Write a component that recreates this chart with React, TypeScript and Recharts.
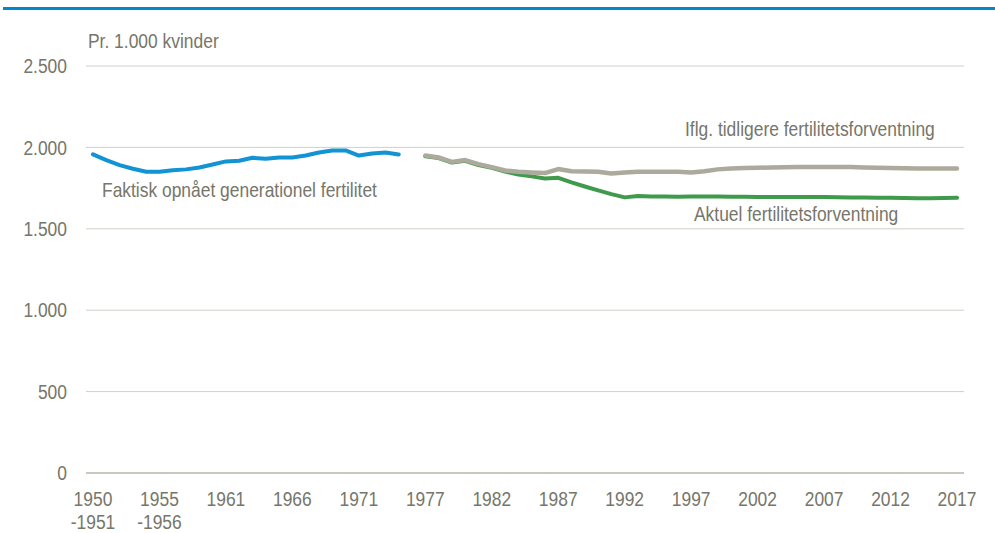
import React from "react";
import { LineChart, Line, XAxis, YAxis, CartesianGrid, Customized } from "recharts";

const categories: string[] = [
  "1950-1951", "1951-1952", "1952-1953", "1953-1954", "1954-1955", "1955-1956",
  "1957", "1958", "1959", "1960", "1961", "1962", "1963", "1964", "1965", "1966",
  "1967", "1968", "1969", "1970", "1971", "1972", "1973", "1974", "1975-1976",
  "1977", "1978", "1979", "1980", "1981", "1982", "1983", "1984", "1985", "1986",
  "1987", "1988", "1989", "1990", "1991", "1992", "1993", "1994", "1995", "1996",
  "1997", "1998", "1999", "2000", "2001", "2002", "2003", "2004", "2005", "2006",
  "2007", "2008", "2009", "2010", "2011", "2012", "2013", "2014", "2015", "2016", "2017",
];

// Faktisk opnået generationel fertilitet (index 0..23)
const actualCohort: (number | null)[] = [
  1957, 1922, 1891, 1869, 1850, 1850, 1860, 1865, 1877, 1895, 1914, 1918,
  1936, 1930, 1938, 1938, 1950, 1969, 1981, 1981, 1950, 1963, 1969, 1957,
];

// Iflg. tidligere fertilitetsforventning (index 25..65)
const previousExpectation: (number | null)[] = [
  1950, 1938, 1911, 1922, 1897, 1879, 1858, 1850, 1846, 1842, 1867, 1854,
  1852, 1850, 1840, 1846, 1850, 1850, 1850, 1850, 1846, 1854, 1865, 1870,
  1873, 1875, 1877, 1878, 1879, 1880, 1880, 1880, 1879, 1877, 1875, 1873,
  1872, 1871, 1870, 1870, 1870,
];

// Aktuel fertilitetsforventning (index 25..65)
const currentExpectation: (number | null)[] = [
  1946, 1934, 1907, 1918, 1892, 1874, 1852, 1834, 1822, 1809, 1813, 1785,
  1760, 1736, 1713, 1693, 1701, 1699, 1699, 1697, 1698, 1698, 1698, 1697,
  1697, 1696, 1696, 1696, 1696, 1695, 1695, 1694, 1693, 1692, 1691, 1690,
  1689, 1688, 1688, 1689, 1690,
];

const yTicks = [0, 500, 1000, 1500, 2000, 2500];

const SECOND_START = 25;

const data = categories.map((c, i) => ({
  name: c,
  actual: i < actualCohort.length ? actualCohort[i] : null,
  previous: i >= SECOND_START ? previousExpectation[i - SECOND_START] ?? null : null,
  current: i >= SECOND_START ? currentExpectation[i - SECOND_START] ?? null : null,
}));

const FONT = "'Liberation Sans', Arial, sans-serif";
const TEXT = "#76766A";
const FS = 20.5;
const SX = 0.85;

const squeeze = (x: number) => `translate(${x},0) scale(${SX},1) translate(${-x},0)`;

const fmt = (v: number) => v.toString().replace(/\B(?=(\d{3})+(?!\d))/g, ".");

const XTick = (props: any) => {
  const { x, y, payload } = props;
  const label: string = payload.value;
  const parts = label.includes("-") ? [label.split("-")[0], "-" + label.split("-")[1]] : [label];
  return (
    <g transform={squeeze(x)}>
      <text x={x} y={y} textAnchor="middle" fill={TEXT} fontSize={FS} fontFamily={FONT}>
        <tspan x={x} y={y + 33.5}>{parts[0]}</tspan>
        {parts[1] && <tspan x={x} y={y + 56}>{parts[1]}</tspan>}
      </text>
    </g>
  );
};

const YTick = (props: any) => {
  const { x, y, payload } = props;
  return (
    <g transform={squeeze(x)}>
      <text x={x} y={y} dy="0.355em" textAnchor="end" fill={TEXT} fontSize={FS} fontFamily={FONT}>
        {fmt(payload.value)}
      </text>
    </g>
  );
};

const Ann = ({ x, y, children }: { x: number; y: number; children: string }) => (
  <g transform={squeeze(x)}>
    <text x={x} y={y}>{children}</text>
  </g>
);

const Annotations = () => (
  <g fontFamily={FONT} fontSize={FS} fill={TEXT}>
    <Ann x={88} y={48}>Pr. 1.000 kvinder</Ann>
    <Ann x={102} y={197}>Faktisk opnået generationel fertilitet</Ann>
    <Ann x={685} y={136}>Iflg. tidligere fertilitetsforventning</Ann>
    <Ann x={694} y={221.5}>Aktuel fertilitetsforventning</Ann>
  </g>
);

export default function App() {
  return (
    <div style={{ position: "absolute", left: 0, top: 0, width: 995, height: 533, background: "#fff" }}>
      <div style={{ position: "absolute", left: 3, top: 7, width: 992, height: 3, background: "#0089C8" }} />
      <LineChart width={995} height={533} data={data} margin={{ top: 66, right: 31, bottom: 0, left: 0 }}>
        <CartesianGrid vertical={false} stroke="#D0D0C7" strokeWidth={1} />
        <XAxis
          dataKey="name"
          interval={4}
          height={60}
          tickLine={false}
          tickSize={0}
          tickMargin={0}
          axisLine={{ stroke: "#AAAA9E", strokeWidth: 1 }}
          padding={{ left: 7, right: 7 }}
          tick={<XTick />}
        />
        <YAxis
          width={86}
          domain={[0, 2500]}
          ticks={yTicks}
          axisLine={false}
          tickLine={false}
          tickSize={0}
          tickMargin={19}
          tick={<YTick />}
        />
        <Line dataKey="current" stroke="#3F9A4B" strokeWidth={4} dot={false} isAnimationActive={false} strokeLinecap="round" strokeLinejoin="round" />
        <Line dataKey="previous" stroke="#ABAA9C" strokeWidth={4.5} dot={false} isAnimationActive={false} strokeLinecap="round" strokeLinejoin="round" />
        <Line dataKey="actual" stroke="#1193D4" strokeWidth={4} dot={false} isAnimationActive={false} strokeLinecap="round" strokeLinejoin="round" />
        <Customized component={Annotations} />
      </LineChart>
    </div>
  );
}
